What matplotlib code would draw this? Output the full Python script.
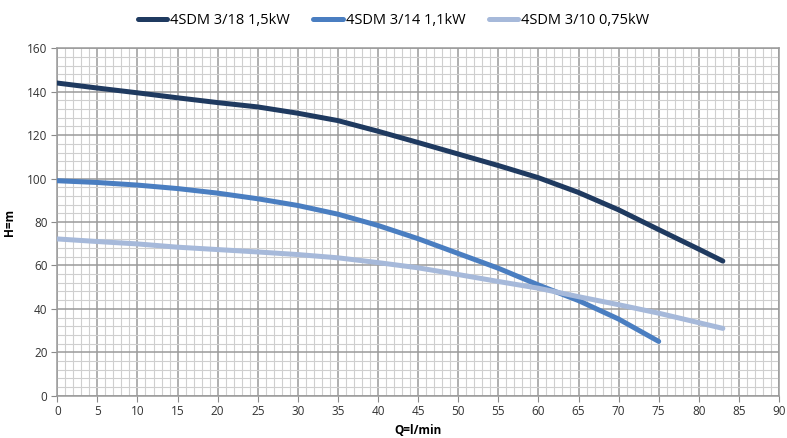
import numpy as np
import matplotlib
matplotlib.use("Agg")
import matplotlib.pyplot as plt
from matplotlib.ticker import MultipleLocator

# Pump curves (Q in l/min, H in m)
q_318 = [0, 5, 10, 15, 20, 25, 30, 35, 40, 45, 50, 55, 60, 65, 70, 75, 80, 83]
h_318 = [144, 141.7, 139.5, 137.2, 135, 133, 130.1, 126.7, 121.8, 116.6, 111.3, 106, 100.4, 93.6, 85.6, 76.5, 67.5, 62]

q_314 = [0, 5, 10, 15, 20, 25, 30, 35, 40, 45, 50, 55, 60, 65, 70, 75]
h_314 = [99, 98.2, 97, 95.4, 93.3, 90.7, 87.6, 83.6, 78.4, 72.3, 65.5, 58.7, 51, 43.8, 35.3, 25]

q_310 = [0, 5, 10, 15, 20, 25, 30, 35, 40, 45, 50, 55, 60, 65, 70, 75, 83]
h_310 = [72.2, 71, 69.9, 68.4, 67.3, 66.2, 65, 63.5, 61.3, 58.9, 55.8, 52.6, 49.5, 45.6, 41.9, 38, 31]

labels = ["4SDM 3/18 1,5kW", "4SDM 3/14 1,1kW", "4SDM 3/10 0,75kW"]
colors = ["#1F3A60", "#4A7EC1", "#A6B9DA"]

plt.rcParams["font.family"] = ["Open Sans", "DejaVu Sans"]

fig = plt.figure(figsize=(7.87, 4.38), dpi=100)
ax = fig.add_axes([0.0728, 0.0966, 0.9170, 0.7931])

series = [(q_318, h_318), (q_314, h_314), (q_310, h_310)]
for (q, h), lab, c in zip(series, labels, colors):
    ax.plot(q, h, color=c, lw=3.6, label=lab, solid_capstyle="round", zorder=3)

ax.set_xlim(0, 90)
ax.set_ylim(0, 160)
ax.xaxis.set_major_locator(MultipleLocator(5))
ax.xaxis.set_minor_locator(MultipleLocator(1))
ax.yaxis.set_major_locator(MultipleLocator(20))
ax.yaxis.set_minor_locator(MultipleLocator(4))
ax.grid(which="minor", color="#cfcfcf", lw=0.8)
ax.grid(which="major", color="#9a9a9a", lw=1.1)
ax.set_axisbelow(True)
for s in ax.spines.values():
    s.set_color("#9a9a9a")
    s.set_linewidth(1.1)
ax.tick_params(which="major", length=4, color="#8a8a8a", labelsize=8.5, labelcolor="#333333", pad=3)
ax.tick_params(which="minor", length=0)

ax.set_xlabel("Q=l/min", fontsize=8.5, fontweight="bold", labelpad=4)
ax.set_ylabel("H=m", fontsize=8.5, fontweight="bold", labelpad=8)

fig.legend(loc="upper center", bbox_to_anchor=(0.5, 1.0), ncol=3, frameon=False,
           fontsize=10.5, handlelength=2.0, handletextpad=0.2, columnspacing=1.6)

fig.savefig("out.png", dpi=100)
